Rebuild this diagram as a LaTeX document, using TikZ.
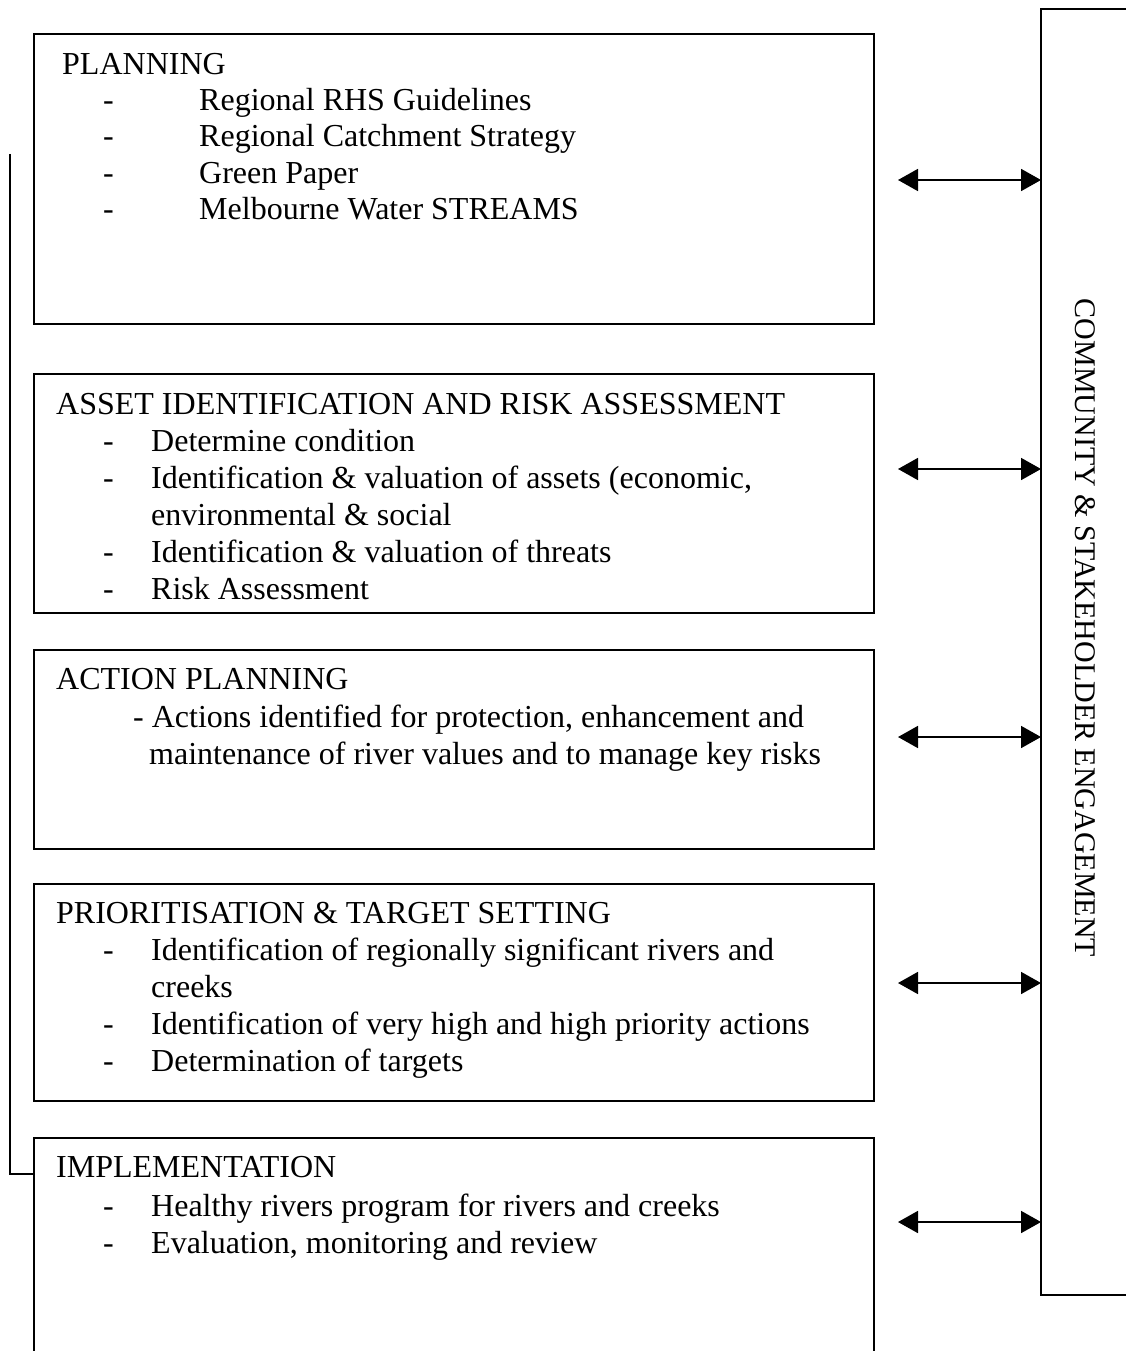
\documentclass[tikz,border=0pt]{standalone}
\usepackage{fontspec}
\setmainfont{Liberation Serif}
\usetikzlibrary{arrows.meta}
\begin{document}
\begin{tikzpicture}[x=1pt,y=-1pt,
  box/.style={draw,line width=1.8pt},
  txt/.style={anchor=base west,inner sep=0pt,font=\fontsize{32}{38}\selectfont},
  link/.style={line width=1.8pt,{Triangle[length=20pt,width=22pt]}-{Triangle[length=20pt,width=22pt]}}]
\clip (0,0) rectangle (1126,1351);
\fill[white] (0,0) rectangle (1126,1351);

% stage boxes
\draw[box] (34,34) rectangle (874,324);
\draw[box] (34,374) rectangle (874,613);
\draw[box] (34,650) rectangle (874,849);
\draw[box] (34,884) rectangle (874,1101);
\draw[box] (34,1138) rectangle (874,1400);
% engagement box on the right
\draw[box] (1041,9) rectangle (1200,1295);
\node[rotate=-90,font=\fontsize{30}{36}\selectfont,inner sep=0pt] (comm) at (1085,628) {COMMUNITY \& STAKEHOLDER ENGAGEMENT};

% feedback line from implementation back to planning
\coordinate (fbtop) at (10,154);
\coordinate (fbend) at (34,1174);
\draw[line width=1.8pt] (fbtop) -- (fbtop |- fbend) -- (fbend);

% two-way links
\foreach \y/\n in {180/a,469/b,737/c,983/d,1222/e}{
  \coordinate (l\n) at (898,\y);
  \coordinate (r\n) at (1041,\y);
  \draw[link] (l\n) -- (r\n);
}

% PLANNING
\node[txt] (p0) at (62,75) {PLANNING};
\node[txt] (p1d) at (103,111) {-};
\node[txt] (p1) at (199,111) {Regional RHS Guidelines};
\node[txt] (p2d) at (103,147) {-};
\node[txt] (p2) at (199,147) {Regional Catchment Strategy};
\node[txt] (p3d) at (103,183) {-};
\node[txt] (p3) at (199,183) {Green Paper};
\node[txt] (p4d) at (103,219) {-};
\node[txt] (p4) at (199,219) {Melbourne Water STREAMS};

% ASSET IDENTIFICATION
\node[txt] (a0) at (56,414) {ASSET IDENTIFICATION AND RISK ASSESSMENT};
\node[txt] (a1d) at (103,451) {-};
\node[txt] (a1) at (151,451) {Determine condition};
\node[txt] (a2d) at (103,488) {-};
\node[txt] (a2) at (151,488) {Identification \& valuation of assets (economic,};
\node[txt] (a3) at (151,525) {environmental \& social};
\node[txt] (a4d) at (103,562) {-};
\node[txt] (a4) at (151,562) {Identification \& valuation of threats};
\node[txt] (a5d) at (103,599) {-};
\node[txt] (a5) at (151,599) {Risk Assessment};

% ACTION PLANNING
\node[txt] (c0) at (56,689) {ACTION PLANNING};
\node[txt] (c1) at (133,727) {- Actions identified for protection, enhancement and};
\node[txt] (c2) at (149,764) {maintenance of river values and to manage key risks};

% PRIORITISATION
\node[txt] (d0) at (56,923) {PRIORITISATION \& TARGET SETTING};
\node[txt] (d1d) at (103,960) {-};
\node[txt] (d1) at (151,960) {Identification of regionally significant rivers and};
\node[txt] (d2) at (151,997) {creeks};
\node[txt] (d3d) at (103,1034) {-};
\node[txt] (d3) at (151,1034) {Identification of very high and high priority actions};
\node[txt] (d4d) at (103,1071) {-};
\node[txt] (d4) at (151,1071) {Determination of targets};

% IMPLEMENTATION
\node[txt] (e0) at (56,1177) {IMPLEMENTATION};
\node[txt] (e1d) at (103,1216) {-};
\node[txt] (e1) at (151,1216) {Healthy rivers program for rivers and creeks};
\node[txt] (e2d) at (103,1253) {-};
\node[txt] (e2) at (151,1253) {Evaluation, monitoring and review};
\end{tikzpicture}
\end{document}
